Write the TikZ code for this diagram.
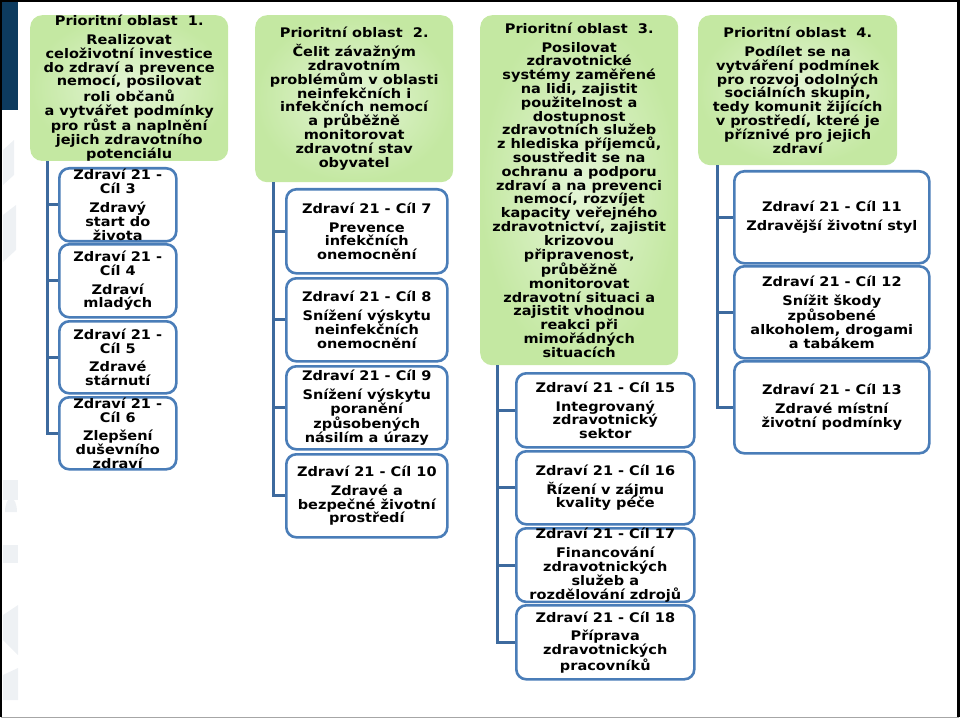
\documentclass[tikz,border=0pt]{standalone}
\usepackage{fontspec}
\setmainfont{DejaVu Sans}[FakeStretch=1.1]
\definecolor{hdrout}{HTML}{C4E8A2}
\definecolor{hdrin}{HTML}{E4F5D6}
\definecolor{boxline}{HTML}{4A7DB8}
\definecolor{connline}{HTML}{3D6A9E}
\definecolor{navy}{HTML}{0D3B5F}
\definecolor{wmark}{HTML}{EEF1F4}
\tikzset{
  txt/.style={font=\bfseries\fontsize{13.2}{13.8}\selectfont, align=center, text=black},
  hdr/.style={txt, rectangle, rounded corners=12pt, inner color=hdrin, outer color=hdrout,
    anchor=north west, inner sep=0pt},
  goal/.style={txt, rectangle, rounded corners=10pt, draw=boxline, line width=2.6pt, fill=white,
    anchor=north west, inner sep=0pt},
  conn/.style={draw=connline, line width=3pt},
}
\newcommand{\gap}{\\[5pt]}
\begin{document}
\begin{tikzpicture}[x=1pt,y=-1pt]
\useasboundingbox (0,0) rectangle (960,719);
% frame and decoration
\fill[navy] (0,2) rectangle (18,110);
\fill[wmark] (3,150) -- (14,140) -- (14,175) -- (3,185) -- cycle;
\fill[wmark] (3,215) -- (16,205) -- (16,250) -- (3,262) -- cycle;
\fill[wmark] (3,480) rectangle (18,500);
\fill[wmark] (5,512) arc[start angle=180, end angle=360, x radius=6, y radius=14] -- cycle;
\fill[wmark] (3,545) rectangle (18,563);
\fill[wmark] (3,615) -- (18,605) -- (18,655) -- (3,640) -- cycle;
\fill[wmark] (3,675) -- (18,668) -- (18,700) -- (3,700) -- cycle;
\draw[black, line width=2.5pt] (1,717) -- (1,1.2) -- (958.5,1.2) -- (958.5,717);
\draw[gray!70, line width=1.5pt] (1,717.5) -- (958.5,717.5);

% headers
\node[hdr, minimum width=198pt, minimum height=145pt] (h1) at (30,15) {%
Prioritní oblast \ 1.\gap Realizovat\\celoživotní investice\\do zdraví a prevence\\nemocí, posilovat\\roli občanů\\a vytvářet podmínky\\pro růst a naplnění\\jejich zdravotního\\potenciálu};
\node[hdr, minimum width=198pt, minimum height=167pt] (h2) at (255,15) {%
Prioritní oblast \ 2.\gap Čelit závažným\\zdravotním\\problémům v oblasti\\neinfekčních i\\infekčních nemocí\\a průběžně\\monitorovat\\zdravotní stav\\obyvatel};
\node[hdr, minimum width=198pt, minimum height=350pt] (h3) at (480,15) {%
Prioritní oblast \ 3.\gap Posilovat\\zdravotnické\\systémy zaměřené\\na lidi, zajistit\\použitelnost a\\dostupnost\\zdravotních služeb\\z hlediska příjemců,\\soustředit se na\\ochranu a podporu\\zdraví a na prevenci\\nemocí, rozvíjet\\kapacity veřejného\\zdravotnictví, zajistit\\krizovou\\připravenost,\\průběžně\\monitorovat\\zdravotní situaci a\\zajistit vhodnou\\reakci při\\mimořádných\\situacích};
\node[hdr, minimum width=199pt, minimum height=150pt] (h4) at (698,15) {%
Prioritní oblast \ 4.\gap Podílet se na\\vytváření podmínek\\pro rozvoj odolných\\sociálních skupin,\\tedy komunit žijících\\v prostředí, které je\\příznivé pro jejich\\zdraví};

% column 1
\node[goal, minimum width=117pt, minimum height=73pt] (g3) at (58,167) {Zdraví 21 -\\Cíl 3\gap Zdravý\\start do\\života};
\node[goal, minimum width=117pt, minimum height=73pt] (g4) at (58,243) {Zdraví 21 -\\Cíl 4\gap Zdraví\\mladých};
\node[goal, minimum width=117pt, minimum height=72pt] (g5) at (58,320) {Zdraví 21 -\\Cíl 5\gap Zdravé\\stárnutí};
\node[goal, minimum width=117pt, minimum height=72pt] (g6) at (58,396) {Zdraví 21 -\\Cíl 6\gap Zlepšení\\duševního\\zdraví};

% column 2
\node[goal, minimum width=161pt, minimum height=84pt] (g7) at (285,188) {Zdraví 21 - Cíl 7\gap Prevence\\infekčních\\onemocnění};
\node[goal, minimum width=161pt, minimum height=83pt] (g8) at (285,277) {Zdraví 21 - Cíl 8\gap Snížení výskytu\\neinfekčních\\onemocnění};
\node[goal, minimum width=161pt, minimum height=83pt] (g9) at (285,365) {Zdraví 21 - Cíl 9\gap Snížení výskytu\\poranění\\způsobených\\násilím a úrazy};
\node[goal, minimum width=161pt, minimum height=83pt] (g10) at (285,453) {Zdraví 21 - Cíl 10\gap Zdravé a\\bezpečné životní\\prostředí};

% column 3
\node[goal, minimum width=178pt, minimum height=74pt] (g15) at (515,372) {Zdraví 21 - Cíl 15\gap Integrovaný\\zdravotnický\\sektor};
\node[goal, minimum width=178pt, minimum height=73pt] (g16) at (515,450) {Zdraví 21 - Cíl 16\gap Řízení v zájmu\\kvality péče};
\node[goal, minimum width=178pt, minimum height=73pt] (g17) at (515,527) {Zdraví 21 - Cíl 17\gap Financování\\zdravotnických\\služeb a\\rozdělování zdrojů};
\node[goal, minimum width=178pt, minimum height=74pt] (g18) at (515,604) {Zdraví 21 - Cíl 18\gap Příprava\\zdravotnických\\pracovníků};

% column 4
\node[goal, minimum width=195pt, minimum height=92pt] (g11) at (733,170) {Zdraví 21 - Cíl 11\gap Zdravější životní styl};
\node[goal, minimum width=195pt, minimum height=92pt] (g12) at (733,265) {Zdraví 21 - Cíl 12\gap Snížit škody\\způsobené\\alkoholem, drogami\\a tabákem};
\node[goal, minimum width=195pt, minimum height=92pt] (g13) at (733,360) {Zdraví 21 - Cíl 13\gap Zdravé místní\\životní podmínky};

% connectors
\coordinate (t1) at ([xshift=17pt]h1.south west);
\coordinate (t2) at ([xshift=18pt]h2.south west);
\coordinate (t3) at ([xshift=17pt]h3.south west);
\coordinate (t4) at ([xshift=19pt]h4.south west);
\draw[conn] (t1) |- (g6.west);
\draw[conn] (t1 |- g3.west) -- (g3.west);
\draw[conn] (t1 |- g4.west) -- (g4.west);
\draw[conn] (t1 |- g5.west) -- (g5.west);
\draw[conn] (t2) |- (g10.west);
\draw[conn] (t2 |- g7.west) -- (g7.west);
\draw[conn] (t2 |- g8.west) -- (g8.west);
\draw[conn] (t2 |- g9.west) -- (g9.west);
\draw[conn] (t3) |- (g18.west);
\draw[conn] (t3 |- g15.west) -- (g15.west);
\draw[conn] (t3 |- g16.west) -- (g16.west);
\draw[conn] (t3 |- g17.west) -- (g17.west);
\draw[conn] (t4) |- (g13.west);
\draw[conn] (t4 |- g11.west) -- (g11.west);
\draw[conn] (t4 |- g12.west) -- (g12.west);
\end{tikzpicture}
\end{document}
